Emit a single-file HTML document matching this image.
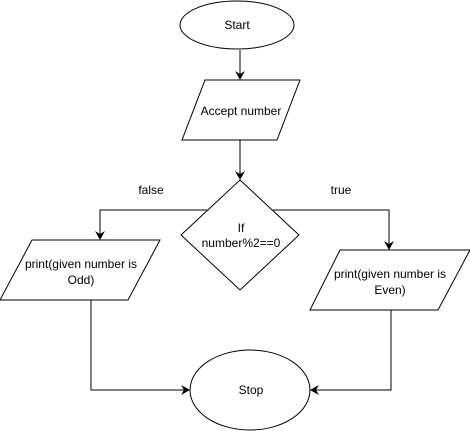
<!DOCTYPE html>
<html><head><style>body{margin:0;background:#fff}svg{display:block}text{font-family:"Liberation Sans",Arial,sans-serif;font-size:12px;fill:#000}</style></head>
<body>
<svg width="470" height="431" viewBox="0 0 470 431" xmlns="http://www.w3.org/2000/svg">
<defs><marker id="a" markerWidth="10" markerHeight="10" refX="8" refY="5" orient="auto" markerUnits="userSpaceOnUse"><path d="M0,0 L9,5 L0,10 L3,5 z" fill="#000"/></marker></defs>
<g fill="#fff" stroke="#000" stroke-width="1">
<ellipse cx="237" cy="25" rx="57" ry="24"/>
<polygon points="205,80 300,80 277,140 182,140"/>
<polygon points="240,180 299,235 240,290 181,235"/>
<polygon points="32,240 160,240 128,300 0,300"/>
<polygon points="340,250 470,250 438,310 310,310"/>
<ellipse cx="250" cy="390" rx="60" ry="40"/>
</g>
<g fill="none" stroke="#000" stroke-width="1">
<line x1="240" y1="50" x2="240" y2="79" marker-end="url(#a)"/>
<line x1="240" y1="140" x2="240" y2="179" marker-end="url(#a)"/>
<polyline points="207,210 100,210 100,239" marker-end="url(#a)"/>
<polyline points="273,210 389,210 389,249" marker-end="url(#a)"/>
<polyline points="91,300 91,390 189,390" marker-end="url(#a)"/>
<polyline points="391,310 391,390 311,390" marker-end="url(#a)"/>
</g>
<text x="237" y="29" text-anchor="middle">Start</text>
<text x="241" y="115" text-anchor="middle">Accept number</text>
<text x="241" y="232" text-anchor="middle">If</text>
<text x="241" y="247" text-anchor="middle">number%2==0</text>
<text x="81" y="268" text-anchor="middle">print(given number is</text>
<text x="81" y="284" text-anchor="middle">Odd)</text>
<text x="390" y="278" text-anchor="middle">print(given number is</text>
<text x="390" y="294" text-anchor="middle">Even)</text>
<text x="151" y="194" text-anchor="middle">false</text>
<text x="341" y="194" text-anchor="middle">true</text>
<text x="251" y="394" text-anchor="middle">Stop</text>
</svg>
</body></html>
